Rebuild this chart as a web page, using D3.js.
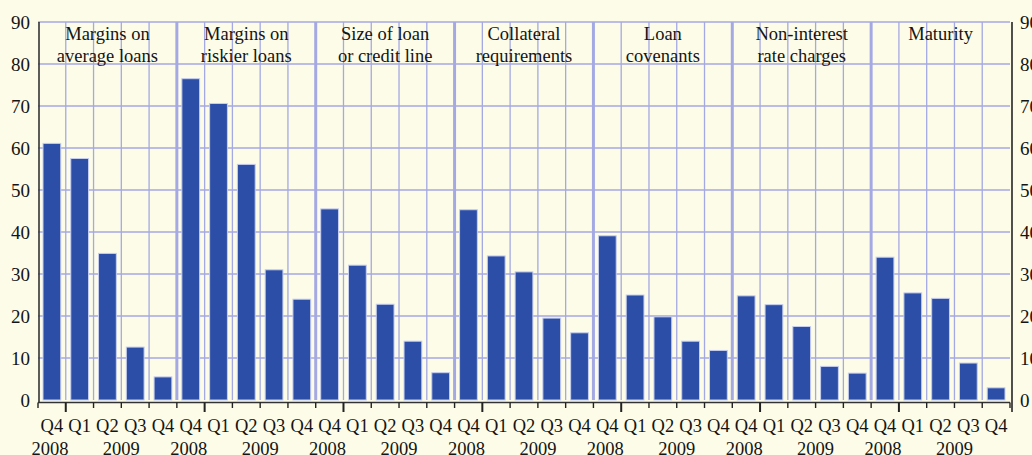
<!DOCTYPE html>
<html lang="en">
<head>
	<meta charset="utf-8">
	<title>Loan terms</title>
	<script src="https://cdnjs.cloudflare.com/ajax/libs/d3/7.8.5/d3.min.js"></script>
	<style>
	body {
		margin: 0;
		background-color: #FDFCE8;
	}
	svg text {
		font-family: "Liberation Serif", "Times New Roman", serif;
		fill: #141414;
	}
	</style>
</head>
<body>
<svg id="chart" width="1032" height="455"></svg>
<script>
// group titles (two lines each)
var groups = [
	['Margins on', 'average loans'],
	['Margins on', 'riskier loans'],
	['Size of loan', 'or credit line'],
	['Collateral', 'requirements'],
	['Loan', 'covenants'],
	['Non-interest', 'rate charges'],
	['Maturity']
];
var quarters = ['Q4', 'Q1', 'Q2', 'Q3', 'Q4'];
var years = ['2008', '2009'];
var yTicks = [0, 10, 20, 30, 40, 50, 60, 70, 80, 90];

// values, one array per group
var marginsAverage = [61.1, 57.5, 34.9, 12.6, 5.5];
var marginsRiskier = [76.5, 70.6, 56.1, 31.0, 24.0];
var sizeOfLoan     = [45.5, 32.1, 22.8, 14.0, 6.5];
var collateral     = [45.3, 34.3, 30.5, 19.5, 16.0];
var covenants      = [39.1, 25.0, 19.8, 14.0, 11.8];
var nonInterest    = [24.8, 22.7, 17.5, 8.0, 6.4];
var maturity       = [34.0, 25.5, 24.2, 8.8, 2.9];
var series = [marginsAverage, marginsRiskier, sizeOfLoan, collateral, covenants, nonInterest, maturity];

(function() {
	var bars = [];
	series.forEach(function(vals, g) {
		vals.forEach(function(v, q) {
			bars.push({g: g, q: q, i: g * quarters.length + q, v: v});
		});
	});

	var svg = d3.select('#chart');
	var pLeft = 38, pRight = 1010, pTop = 22, pBottom = 400;

	var x = d3.scaleBand()
		.domain(d3.range(bars.length))
		.range([pLeft, pRight]);
	var cw = x.bandwidth();

	var y = d3.scaleLinear()
		.domain([0, 90])
		.range([pBottom, pTop]);

	// horizontal grid
	svg.append('g').selectAll('line')
		.data(yTicks.filter(function(d) { return d > 0; }))
		.join('line')
		.attr('x1', pLeft).attr('x2', pRight)
		.attr('y1', function(d) { return y(d); })
		.attr('y2', function(d) { return y(d); })
		.attr('stroke', '#A4A9E3')
		.attr('stroke-width', 1.3);

	// vertical grid (thin per quarter, thick between groups)
	svg.append('g').selectAll('line')
		.data(d3.range(1, bars.length))
		.join('line')
		.attr('x1', function(d) { return x(d); })
		.attr('x2', function(d) { return x(d); })
		.attr('y1', pTop).attr('y2', pBottom)
		.attr('stroke', '#A4A9E3')
		.attr('stroke-width', function(d) { return d % quarters.length == 0 ? 3 : 1.3; });

	// bars
	var bw = cw * 0.64;
	svg.append('g').selectAll('rect')
		.data(bars)
		.join('rect')
		.attr('x', function(d) { return x(d.i) + (cw - bw) / 2; })
		.attr('y', function(d) { return y(d.v); })
		.attr('width', bw)
		.attr('height', function(d) { return y(0) - y(d.v); })
		.attr('fill', '#2C4EA6')
		.attr('stroke', '#C6CEF0')
		.attr('stroke-width', 1);

	// axis lines
	svg.append('line')
		.attr('x1', 39).attr('x2', 39)
		.attr('y1', pTop).attr('y2', pBottom + 2)
		.attr('stroke', '#333').attr('stroke-width', 1.6);
	svg.append('line')
		.attr('x1', 1012).attr('x2', 1012)
		.attr('y1', pTop).attr('y2', pBottom + 12)
		.attr('stroke', '#222').attr('stroke-width', 1.6);
	svg.append('line')
		.attr('x1', pLeft).attr('x2', pRight)
		.attr('y1', pBottom + 2.5).attr('y2', pBottom + 2.5)
		.attr('stroke', '#333').attr('stroke-width', 1.4);

	// bottom ticks, longer at the year change
	svg.append('g').selectAll('line')
		.data(d3.range(bars.length + 1))
		.join('line')
		.attr('x1', function(d) { return d == bars.length ? pRight : x(d); })
		.attr('x2', function(d) { return d == bars.length ? pRight : x(d); })
		.attr('y1', pBottom + 2.5)
		.attr('y2', function(d) { return d % quarters.length == 1 ? pBottom + 12 : pBottom + 8; })
		.attr('stroke', '#222')
		.attr('stroke-width', function(d) { return d % quarters.length == 1 ? 2 : 1.4; });

	// y tick labels, both sides
	var yl = svg.append('g').attr('font-size', '19px');
	yl.selectAll('text.l')
		.data(yTicks)
		.join('text')
		.attr('class', 'l')
		.attr('x', 30)
		.attr('y', function(d) { return y(d); })
		.attr('dy', '0.35em')
		.attr('text-anchor', 'end')
		.text(function(d) { return d; });
	yl.selectAll('text.r')
		.data(yTicks)
		.join('text')
		.attr('class', 'r')
		.attr('x', 1020)
		.attr('y', function(d) { return y(d); })
		.attr('dy', '0.35em')
		.attr('text-anchor', 'start')
		.text(function(d) { return d; });

	// quarter labels
	svg.append('g').attr('font-size', '18.5px').selectAll('text')
		.data(bars)
		.join('text')
		.attr('x', function(d) { return x(d.i) + cw / 2; })
		.attr('y', 432)
		.attr('text-anchor', 'middle')
		.text(function(d) { return quarters[d.q]; });

	// year labels
	var yearPos = [];
	groups.forEach(function(t, g) {
		var s = g * quarters.length;
		yearPos.push({t: years[0], cx: x(s) + cw / 2 - 2});
		yearPos.push({t: years[1], cx: x(s + 1) + cw * 2});
	});
	svg.append('g').attr('font-size', '18.5px').selectAll('text')
		.data(yearPos)
		.join('text')
		.attr('x', function(d) { return d.cx; })
		.attr('y', 455)
		.attr('text-anchor', 'middle')
		.text(function(d) { return d.t; });

	// group titles
	var gt = svg.append('g').attr('font-size', '18.5px').selectAll('text')
		.data(groups)
		.join('text')
		.attr('text-anchor', 'middle')
		.attr('y', 40);
	gt.selectAll('tspan')
		.data(function(d, g) { return d.map(function(s) { return {s: s, g: g}; }); })
		.join('tspan')
		.attr('x', function(d) { return x(d.g * quarters.length) + cw * quarters.length / 2; })
		.attr('dy', function(d, k) { return k == 0 ? 0 : 22; })
		.text(function(d) { return d.s; });
})();
</script>
</body>
</html>
